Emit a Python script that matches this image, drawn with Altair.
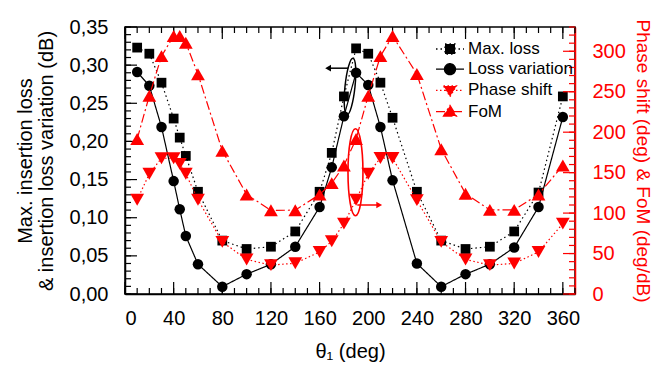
import altair as alt
import pandas as pd

# ---------------- data ----------------
theta = [10, 20, 30, 40, 45, 50, 60, 80, 100, 120, 140, 160, 170, 180,
         190, 200, 210, 220, 240, 260, 280, 300, 320, 340, 360]
max_loss = [0.323, 0.315, 0.277, 0.230, 0.205, 0.181, 0.134, 0.070, 0.059,
            0.062, 0.082, 0.134, 0.185, 0.259, 0.322, 0.315, 0.277, 0.231,
            0.134, 0.070, 0.059, 0.062, 0.082, 0.133, 0.259]
loss_var = [0.291, 0.273, 0.219, 0.148, 0.111, 0.076, 0.039, 0.0096, 0.026,
            0.039, 0.062, 0.114, 0.166, 0.233, 0.290, 0.274, 0.219, 0.149,
            0.040, 0.0096, 0.026, 0.039, 0.061, 0.114, 0.232]
phase_shift = [116.5, 148.6, 167.8, 167.8, 160.8, 148.6, 116.5, 64.4, 42.7,
               35.7, 38.0, 52.0, 65.2, 87.0, 116.5, 148.6, 168.0, 168.0,
               116.0, 64.4, 42.7, 35.7, 37.8, 52.0, 87.0]
fom = [191.6, 245.0, 294.0, 318.8, 318.8, 310.5, 271.6, 177.0, 123.0, 103.4,
       103.6, 123.0, 137.0, 158.8, 191.6, 245.0, 294.0, 318.8, 272.0, 179.0,
       124.0, 104.0, 104.0, 123.0, 158.8]

series_names = ["Max. loss", "Loss variation", "Phase shift", "FoM"]
series_colors = ["black", "black", "red", "red"]
series_dashes = [[1.5, 3], [1, 0], [1.5, 2.5], [9, 3, 2, 3]]
series_shapes = ["square", "circle", "triangle-down", "triangle-up"]
series_sizes = [95, 110, 190, 190]

x_major = [0, 40, 80, 120, 160, 200, 240, 280, 320, 360]
x_minor = list(range(0, 371, 10))
yl_major = [0.0, 0.05, 0.10, 0.15, 0.20, 0.25, 0.30, 0.35]
yl_minor = [i / 100 for i in range(0, 36)]
yr_major = [0, 50, 100, 150, 200, 250, 300]
yr_minor = list(range(0, 331, 10))

# annotations (data coordinates)
black_ellipse = {"theta": [185.0], "value": [0.272]}
black_arrow = {"theta": [183.5], "theta2": [167.0], "value": [0.296]}
red_ellipse = {"theta": [189.5], "value": [150.5]}
red_arrow = {"theta": [191.0], "theta2": [209.0], "value": [110.0]}

# ---------------- layout / style ----------------
W, H = 450, 267
FONT = "Liberation Sans"
MAJ, MIN = 12, 6

# legend glyphs: a line segment with the marker on top (unit-box paths)
K = 0.5523
legend_glyphs = [
    "M-1.4,0H1.4M-0.5,-0.5H0.5V0.5H-0.5Z",
    ("M-1.4,0H1.4M0,-0.55C{a},-0.55 0.55,-{a} 0.55,0C0.55,{a} {a},0.55 0,0.55"
     "C-{a},0.55 -0.55,{a} -0.55,0C-0.55,-{a} -{a},-0.55 0,-0.55Z").format(a=round(0.55 * K, 4)),
    "M-1.4,0H1.4M-0.65,-0.45H0.65L0,0.62Z",
    "M-1.4,0H1.4M-0.65,0.45H0.65L0,-0.62Z",
]


def series_df(values, name):
    return pd.DataFrame({"theta": theta, "value": values, "series": name})


ml_df = series_df(max_loss, series_names[0])
lv_df = series_df(loss_var, series_names[1])
ps_df = series_df(phase_shift, series_names[2])
fm_df = series_df(fom, series_names[3])
left_df = pd.concat([ml_df, lv_df], ignore_index=True)
right_df = pd.concat([ps_df, fm_df], ignore_index=True)

x_scale = alt.Scale(domain=[0, 370], nice=False, zero=False)
yl_scale = alt.Scale(domain=[0, 0.35], nice=False, zero=False)
yr_scale = alt.Scale(domain=[0, 330], nice=False, zero=False)

x_axis = alt.Axis(orient="bottom", values=x_major, ticks=False, tickSize=0,
                  labelFontSize=20, labelPadding=14, labelColor="black",
                  title="θ₁ (deg)", titleFontSize=20, titleFontWeight="normal",
                  titlePadding=13, titleColor="black", grid=False,
                  domainColor="black", domainWidth=1.5)
yl_axis = alt.Axis(orient="left", values=yl_major, ticks=False, tickSize=0,
                   labelFontSize=20, labelPadding=17, labelColor="black",
                   labelExpr="replace(format(datum.value, '.2f'), '.', ',')",
                   title=["Max. insertion loss", "& insertion loss variation (dB)"],
                   titleFontSize=20, titleFontWeight="normal", titleLineHeight=21,
                   titlePadding=13, titleColor="black", grid=False,
                   domainColor="black", domainWidth=1.5)
yr_axis = alt.Axis(orient="right", values=yr_major, ticks=False, tickSize=0,
                   labelFontSize=20, labelPadding=17, labelColor="red",
                   title="Phase shift (deg) & FoM (deg/dB)",
                   titleFontSize=19, titleFontWeight="normal",
                   titlePadding=7, titleColor="red", grid=False,
                   domainColor="red", domainWidth=1.5)


def xenc(field):
    return alt.X(f"{field}:Q", scale=x_scale, axis=x_axis)


def ylenc(field):
    return alt.Y(f"{field}:Q", scale=yl_scale, axis=yl_axis)


def yrenc(field):
    return alt.Y(f"{field}:Q", scale=yr_scale, axis=yr_axis)


legend = alt.Legend(title=None, orient="none", legendX=314, legendY=11,
                    symbolSize=400, symbolStrokeWidth=1.3, symbolOpacity=1,
                    labelFontSize=17, labelFont=FONT, labelColor="black",
                    labelOffset=7, rowPadding=1.2, padding=0)

stroke_enc = alt.Stroke("series:N", scale=alt.Scale(domain=series_names, range=series_colors),
                        legend=legend)
dash_enc = alt.StrokeDash("series:N", scale=alt.Scale(domain=series_names, range=series_dashes),
                          legend=legend)
fill_enc = alt.Fill("series:N", scale=alt.Scale(domain=series_names, range=series_colors),
                    legend=legend)
shape_enc = alt.Shape("series:N", scale=alt.Scale(domain=series_names, range=legend_glyphs),
                      legend=legend)


def ellipse_path(a):
    return (f"M0,-1C{a*K:.4f},-1 {a:.4f},{-K} {a:.4f},0"
            f"C{a:.4f},{K} {a*K:.4f},1 0,1"
            f"C{-a*K:.4f},1 {-a:.4f},{K} {-a:.4f},0"
            f"C{-a:.4f},{-K} {-a*K:.4f},-1 0,-1Z")


def points(df, i, yfun):
    return alt.Chart(df).mark_point(filled=True, opacity=1, strokeWidth=0,
                                    shape=series_shapes[i], color=series_colors[i],
                                    size=series_sizes[i]).encode(
        x=xenc("theta"), y=yfun("value"))


# ---------------- left group ----------------
left_lines = alt.Chart(left_df).mark_line(strokeWidth=1.2).encode(
    x=xenc("theta"), y=ylenc("value"), stroke=stroke_enc, strokeDash=dash_enc,
    detail="series:N")

legend_host = alt.Chart(pd.DataFrame({"series": series_names})).mark_point(
    filled=True, opacity=0, strokeWidth=1.3).encode(fill=fill_enc, shape=shape_enc)

xt_major = pd.DataFrame({"tick": x_major})
xt_minor = pd.DataFrame({"tick": x_minor})
bot_major = alt.Chart(xt_major).mark_rule(color="black", strokeWidth=1.2).encode(
    x=xenc("tick"), y=alt.value(H), y2=alt.value(H - MAJ))
bot_minor = alt.Chart(xt_minor).mark_rule(color="black", strokeWidth=1.2).encode(
    x=xenc("tick"), y=alt.value(H), y2=alt.value(H - MIN))
top_major = alt.Chart(xt_major).mark_rule(color="black", strokeWidth=1.2).encode(
    x=xenc("tick"), y=alt.value(0), y2=alt.value(MAJ))
top_minor = alt.Chart(xt_minor).mark_rule(color="black", strokeWidth=1.2).encode(
    x=xenc("tick"), y=alt.value(0), y2=alt.value(MIN))

yl_maj_t = alt.Chart(pd.DataFrame({"tick": yl_major})).mark_rule(color="black", strokeWidth=1.2).encode(
    y=ylenc("tick"), x=alt.value(0), x2=alt.value(MAJ))
yl_min_t = alt.Chart(pd.DataFrame({"tick": yl_minor})).mark_rule(color="black", strokeWidth=1.2).encode(
    y=ylenc("tick"), x=alt.value(0), x2=alt.value(MIN))

b_ell = alt.Chart(pd.DataFrame(black_ellipse)).mark_point(
    shape=ellipse_path(0.175), filled=False, color="black", strokeWidth=1.5,
    size=57 * 57, angle=6, opacity=1).encode(x=xenc("theta"), y=ylenc("value"))
b_arr_df = pd.DataFrame(black_arrow)
b_arr = alt.Chart(b_arr_df).mark_rule(color="black", strokeWidth=1.5).encode(
    x=xenc("theta"), x2="theta2:Q", y=ylenc("value"))
b_head = alt.Chart(b_arr_df).mark_point(shape="triangle-left", filled=True, color="black",
                                        size=45, opacity=1).encode(
    x=xenc("theta2"), y=ylenc("value"))

left_group = alt.layer(yl_min_t, yl_maj_t, bot_minor, bot_major, top_minor, top_major,
                       left_lines, points(ml_df, 0, ylenc), points(lv_df, 1, ylenc),
                       b_ell, b_arr, b_head, legend_host)

# ---------------- right group ----------------
right_lines = alt.Chart(right_df).mark_line(strokeWidth=1.2).encode(
    x=xenc("theta"), y=yrenc("value"), stroke=stroke_enc, strokeDash=dash_enc,
    detail="series:N")
yr_maj_t = alt.Chart(pd.DataFrame({"tick": yr_major})).mark_rule(color="red", strokeWidth=1.2).encode(
    y=yrenc("tick"), x=alt.value(W), x2=alt.value(W - MAJ))
yr_min_t = alt.Chart(pd.DataFrame({"tick": yr_minor})).mark_rule(color="red", strokeWidth=1.2).encode(
    y=yrenc("tick"), x=alt.value(W), x2=alt.value(W - MIN))

r_ell = alt.Chart(pd.DataFrame(red_ellipse)).mark_point(
    shape=ellipse_path(0.172), filled=False, color="red", strokeWidth=1.6,
    size=87 * 87, opacity=1).encode(x=xenc("theta"), y=yrenc("value"))
r_arr_df = pd.DataFrame(red_arrow)
r_arr = alt.Chart(r_arr_df).mark_rule(color="red", strokeWidth=1.5).encode(
    x=xenc("theta"), x2="theta2:Q", y=yrenc("value"))
r_head = alt.Chart(r_arr_df).mark_point(shape="triangle-right", filled=True, color="red",
                                        size=45, opacity=1).encode(
    x=xenc("theta2"), y=yrenc("value"))

right_group = alt.layer(yr_min_t, yr_maj_t, right_lines, points(ps_df, 2, yrenc),
                        points(fm_df, 3, yrenc), r_ell, r_arr, r_head)

chart = alt.layer(left_group, right_group).resolve_scale(y="independent").properties(
    width=W, height=H,
    autosize=alt.AutoSizeParams(type="none"),
    padding={"left": 117, "top": 19, "right": 78, "bottom": 68},
).configure(font=FONT).configure_view(stroke="black", strokeWidth=1.5)

chart.save("out.html", embed_options={"renderer": "svg", "actions": False})
